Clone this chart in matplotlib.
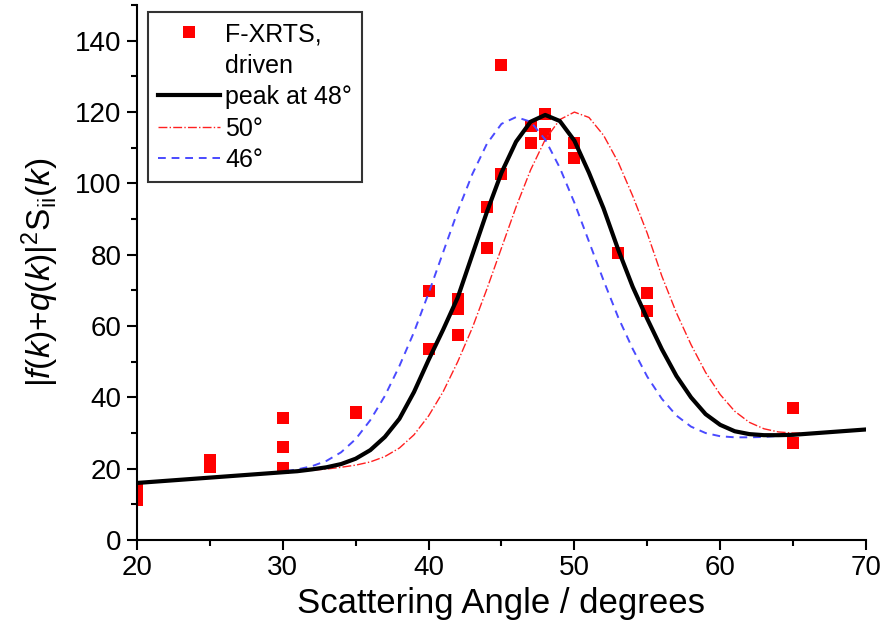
import matplotlib
matplotlib.use("Agg")
import matplotlib.pyplot as plt
from matplotlib.ticker import MultipleLocator

plt.rcParams['font.family'] = ['Liberation Sans', 'DejaVu Sans']
plt.rcParams['mathtext.fontset'] = 'custom'
plt.rcParams['mathtext.rm'] = 'Liberation Sans'
plt.rcParams['mathtext.it'] = 'Liberation Sans:italic'

# measured F-XRTS points (driven sample)
meas_angle = [20, 20, 25, 25, 30, 30, 30, 35, 35, 40, 40, 42, 42, 42, 44, 44,
              45, 45, 47, 47, 48, 48, 50, 50, 53, 55, 55, 65, 65]
meas_val = [11.2, 14.0, 22.5, 20.6, 34.3, 26.2, 20.3, 35.7, 35.9, 69.7, 53.7,
            67.5, 64.7, 57.6, 93.3, 81.8, 102.6, 133.3, 116.1, 111.3, 119.5,
            113.9, 111.3, 107.1, 80.4, 69.4, 64.1, 37.1, 27.3]

# model curves, sampled every degree
angle = list(range(20, 71))
peak48 = [16.0, 16.3, 16.6, 16.9, 17.2, 17.5, 17.8, 18.1, 18.4, 18.7,
          19.0, 19.3, 19.8, 20.4, 21.3, 22.8, 25.2, 28.9, 34.0, 41.5,
          50.5, 59.0, 68.0, 80.0, 92.0, 103.0, 111.7, 117.3, 119.2, 117.5,
          112.0, 103.0, 93.0, 81.5, 71.0, 62.0, 53.5, 46.0, 40.0, 35.3,
          32.3, 30.5, 29.7, 29.4, 29.4, 29.5, 29.8, 30.1, 30.4, 30.7, 31.0]
peak50 = [16.0, 16.3, 16.6, 16.9, 17.2, 17.5, 17.8, 18.1, 18.4, 18.7,
          19.0, 19.3, 19.6, 19.9, 20.4, 21.0, 21.9, 23.4, 25.8, 29.5,
          34.8, 41.6, 50.0, 59.5, 70.4, 81.9, 93.4, 103.8, 112.3, 117.9,
          120.0, 118.5, 113.5, 106.0, 96.5, 86.0, 74.0, 63.7, 54.8, 47.0,
          40.8, 36.1, 33.0, 31.2, 30.3, 30.0, 30.0, 30.1, 30.4, 30.7, 31.0]
peak46 = [16.0, 16.3, 16.6, 16.9, 17.2, 17.5, 17.8, 18.1, 18.4, 18.7,
          19.2, 19.8, 20.7, 22.2, 24.6, 28.3, 33.6, 40.4, 48.8, 58.3,
          69.2, 80.7, 92.2, 102.6, 111.1, 116.7, 118.6, 117.3, 112.3, 104.4,
          94.6, 83.7, 72.8, 62.5, 53.6, 45.8, 39.6, 34.9, 31.8, 30.0,
          29.1, 28.8, 28.8, 28.9, 29.2, 29.5, 29.8, 30.1, 30.4, 30.7, 31.0]

fig = plt.figure(figsize=(8.86, 6.39), dpi=100)
ax = fig.add_axes([0.1546, 0.1549, 0.8228, 0.8371])

ax.plot(meas_angle, meas_val, 's', color='#ff0000', markersize=8,
        markeredgewidth=0, label='F-XRTS,', zorder=2)
# second line of the data label, no handle of its own
ax.plot([], [], ' ', label='driven')
ax.plot(angle, peak48, '-', color='black', lw=3, label='peak at 48°', zorder=4)
ax.plot(angle, peak50, '-.', color='#ff2020', lw=1, label='50°', zorder=3)
ax.plot(angle, peak46, '--', color='#4a4aff', lw=1.4, dashes=(4, 3),
        label='46°', zorder=3)

ax.set_xlim(20, 70)
ax.set_ylim(0, 150)
ax.xaxis.set_major_locator(MultipleLocator(10))
ax.xaxis.set_minor_locator(MultipleLocator(5))
ax.yaxis.set_major_locator(MultipleLocator(20))
ax.yaxis.set_minor_locator(MultipleLocator(10))
ax.spines['top'].set_visible(False)
ax.spines['right'].set_visible(False)
for s in ('left', 'bottom'):
    ax.spines[s].set_linewidth(1.5)
ax.tick_params(which='major', direction='out', length=7, width=1.5,
               labelsize=20, pad=4)
ax.tick_params(which='minor', direction='out', length=4, width=1.5)

ax.set_xlabel('Scattering Angle / degrees', fontsize=25, labelpad=4)
ax.set_ylabel(r'$|f(k){+}q(k)|^2\mathrm{S}_{\mathrm{ii}}(k)$', fontsize=24,
              labelpad=10)

leg = ax.legend(loc='upper left', bbox_to_anchor=(0.015, 0.987),
                borderaxespad=0, fontsize=18, frameon=True, fancybox=False,
                handlelength=2.5, handletextpad=0.2, labelspacing=0.3,
                borderpad=0.4)
leg.get_frame().set_edgecolor('black')
leg.get_frame().set_linewidth(1.5)

fig.savefig('out.png', dpi=100)
